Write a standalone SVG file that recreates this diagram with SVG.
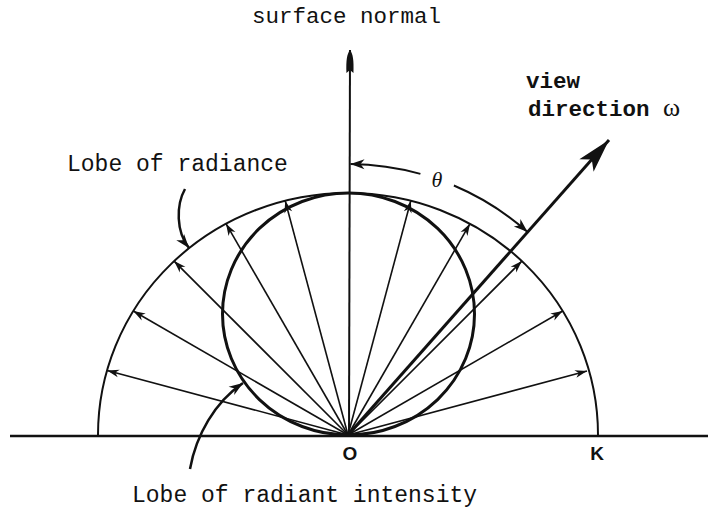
<svg xmlns="http://www.w3.org/2000/svg" width="708" height="513" viewBox="0 0 708 513">
<style>
.lbl{font-family:"Liberation Mono","DejaVu Sans Mono",monospace;font-size:23px;fill:#111}
.bold{font-family:"Liberation Mono","DejaVu Sans Mono",monospace;font-size:22.5px;font-weight:bold;fill:#111}
.ray{stroke:#111;stroke-width:1.6;fill:none;marker-end:url(#small)}
.hand{font-family:"Liberation Sans",Arial,sans-serif;font-weight:bold;font-size:19px;fill:#111}
</style>
<defs>
<marker id="small" markerUnits="userSpaceOnUse" viewBox="-13 -5 14 10" markerWidth="14" markerHeight="10" refX="0" refY="0" orient="auto">
<path d="M0,0 L-12,-4 L-8.5,0 L-12,4 Z" fill="#111"/>
</marker>
<marker id="mid" markerUnits="userSpaceOnUse" viewBox="-15 -6 16 12" markerWidth="16" markerHeight="12" refX="0" refY="0" orient="auto">
<path d="M0,0 L-14,-5 L-10,0 L-14,5 Z" fill="#111"/>
</marker>
<marker id="lance" markerUnits="userSpaceOnUse" viewBox="-25 -5 26 10" markerWidth="26" markerHeight="10" refX="0" refY="0" orient="auto">
<path d="M0,0 C-4,-3 -10,-4 -23,-3.5 L-20,0 L-23,3.5 C-10,4 -4,3 0,0 Z" fill="#111"/>
</marker>
<marker id="big" markerUnits="userSpaceOnUse" viewBox="-36 -11 37 22" markerWidth="37" markerHeight="22" refX="0" refY="0" orient="auto">
<path d="M0,0 L-34,-9.5 L-26,0 L-34,9.5 Z" fill="#111"/>
</marker>
</defs>

<g id="connectors">
<line x1="10" y1="436" x2="708" y2="436" stroke="#111" stroke-width="2.5"/>
<line x1="349" y1="435" x2="350" y2="50" stroke="#111" stroke-width="2" marker-end="url(#lance)"/>
<line class="ray" x1="348" y1="435" x2="587" y2="370.9"/>
<line class="ray" x1="348" y1="435" x2="562.7" y2="311"/>
<line class="ray" x1="348" y1="435" x2="521.9" y2="261.1"/>
<line class="ray" x1="348" y1="435" x2="470" y2="223.7"/>
<line class="ray" x1="348" y1="435" x2="410.8" y2="200.8"/>
<line class="ray" x1="348" y1="435" x2="285.2" y2="200.8"/>
<line class="ray" x1="348" y1="435" x2="226" y2="223.7"/>
<line class="ray" x1="348" y1="435" x2="174.1" y2="261.1"/>
<line class="ray" x1="348" y1="435" x2="133.3" y2="311"/>
<line class="ray" x1="348" y1="435" x2="107.1" y2="370.4"/>
<line x1="348" y1="435" x2="609" y2="140" stroke="#111" stroke-width="3" marker-end="url(#big)"/>
<path d="M420.4,173.9 A271,271 0 0 0 350.5,164" fill="none" stroke="#111" stroke-width="2" marker-end="url(#mid)"/>
<path d="M453.9,185.5 A271,271 0 0 1 527.6,232" fill="none" stroke="#111" stroke-width="2" marker-end="url(#mid)"/>
<path d="M185,189 C176,205 176,232 189,248" fill="none" stroke="#111" stroke-width="2.5" marker-end="url(#mid)"/>
<path d="M190,469 C196,435 215,402 243,383" fill="none" stroke="#111" stroke-width="2.5" marker-end="url(#mid)"/>
</g>

<g id="lobe-radiance">
<path d="M98,435 A250,242 0 0 1 598,435" fill="none" stroke="#111" stroke-width="2"/>
</g>

<g id="lobe-intensity">
<ellipse cx="348.5" cy="314" rx="126" ry="121" fill="none" stroke="#111" stroke-width="3"/>
</g>

<g id="labels">
<text class="lbl" x="252" y="23" style="font-size:22.5px">surface normal</text>
<text class="bold" x="526" y="88">view</text>
<text class="bold" x="528" y="116">direction <tspan style="font-family:'Liberation Serif',serif;font-weight:normal;font-size:26px">ω</tspan></text>
<text x="437" y="187" text-anchor="middle" style="font-family:'Liberation Serif',serif;font-style:italic;font-size:22px;fill:#111">θ</text>
<text class="lbl" x="67" y="171">Lobe of radiance</text>
<text class="lbl" x="132" y="502">Lobe of radiant intensity</text>
<text class="hand" x="350" y="460" text-anchor="middle">O</text>
<text class="hand" x="597" y="460" text-anchor="middle">K</text>
</g>
</svg>
